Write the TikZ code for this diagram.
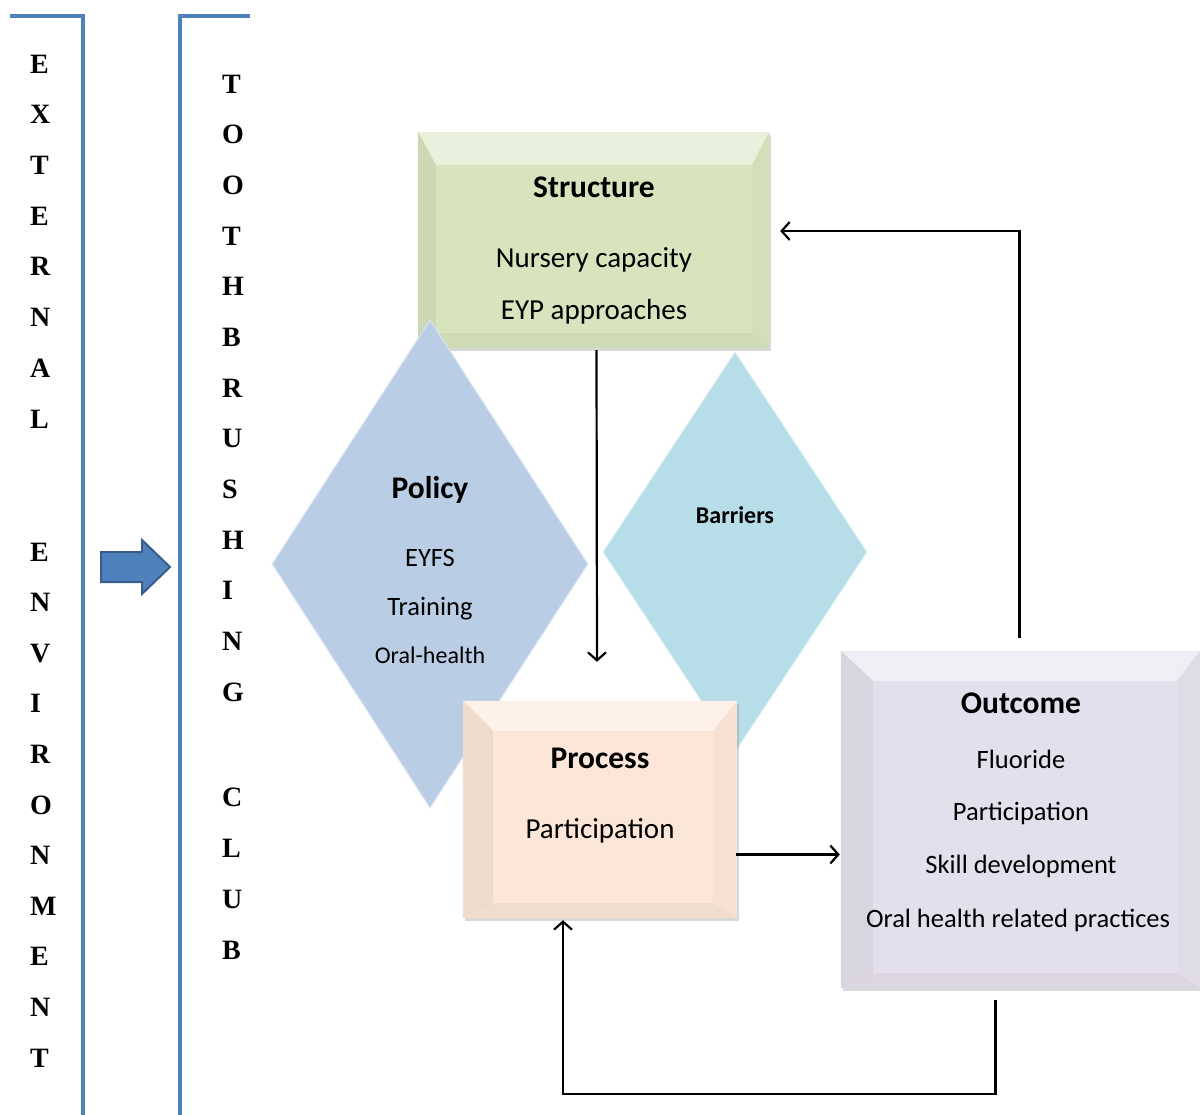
\documentclass[tikz,border=0pt]{standalone}
\usepackage{fontspec}
\setmainfont{Carlito}
\newfontfamily\lettersfont{Liberation Serif}
\usetikzlibrary{shapes.geometric,arrows.meta,shadows}

\definecolor{railblue}{HTML}{4F81BD}
\definecolor{pushedge}{HTML}{385D8A}
\definecolor{strgreen}{HTML}{D7E4BD}
\definecolor{polblue}{HTML}{B9CDE5}
\definecolor{barblue}{HTML}{B7DEE8}
\definecolor{procpeach}{HTML}{FBE6D7}
\definecolor{outlilac}{HTML}{E4DFEC}

% bevel: node, left, top, right, bottom, colour
\newcommand\bevel[6]{%
\coordinate (#1-a) at ([shift={(#2,#3)}]#1.north west);
\coordinate (#1-b) at ([shift={(-#4,#3)}]#1.north east);
\coordinate (#1-c) at ([shift={(-#4,-#5)}]#1.south east);
\coordinate (#1-d) at ([shift={(#2,-#5)}]#1.south west);
\fill[#6!55!white] (#1.north west) -- (#1.north east) -- (#1-b) -- (#1-a) -- cycle;
\fill[#6!95!black] (#1.north west) -- (#1-a) -- (#1-d) -- (#1.south west) -- cycle;
\fill[#6!98!black] (#1.north east) -- (#1.south east) -- (#1-c) -- (#1-b) -- cycle;
\fill[#6!96!black] (#1.south west) -- (#1-d) -- (#1-c) -- (#1.south east) -- cycle;
}

\begin{document}
\begin{tikzpicture}[x=1pt,y=-1pt,
  box/.style={rectangle,inner sep=0pt,drop shadow={opacity=.3,shadow xshift=2pt,shadow yshift=-3pt}},
  kite/.style={diamond,inner sep=0pt,draw=#1!55!white,line width=1pt,fill=#1},
  head/.style={font=\fontsize{31.5}{36}\selectfont\bfseries},
  item/.style={font=\fontsize{29}{33}\selectfont},
  small/.style={font=\fontsize{26.5}{30}\selectfont},
  tiny/.style={font=\fontsize{24}{28}\selectfont},
  letter/.style={font=\lettersfont\bfseries\fontsize{28}{32}\selectfont,anchor=west,inner sep=0pt},
  rail/.style={railblue,line width=3.5pt},
  conn/.style={line width=2.2pt,-{Straight Barb[length=8pt,width=18pt]}}]
\useasboundingbox (0,0) rectangle (1200,1115);

\draw[rail] (10,16) -- (83,16) -- (83,1115);
\draw[rail] (250,16) -- (180,16) -- (180,1115);
\foreach \c [count=\i] in {E,X,T,E,R,N,A,L}
  \node[letter] (ext\i) at (30,13.3+50.7*\i) {\c};
\foreach \c [count=\i] in {E,N,V,I,R,O,N,M,E,N,T}
  \node[letter] (env\i) at (30,501.4+50.6*\i) {\c};
\foreach \c [count=\i] in {T,O,O,T,H,B,R,U,S,H,I,N,G}
  \node[letter] (tb\i) at (222,33.3+50.67*\i) {\c};
\foreach \c [count=\i] in {C,L,U,B}
  \node[letter] (club\i) at (222,746+51*\i) {\c};
\draw[pushedge,line width=2pt,fill=railblue] (101,552) -- (142,552) -- (142,540) -- (170,567)
  -- (142,594) -- (142,582) -- (101,582) -- cycle;

\node[box,fill=strgreen,minimum width=351pt,minimum height=216pt] (str) at (593.5,240) {};
\bevel{str}{18}{33}{17}{15}{strgreen}
\node[kite=polblue,minimum width=316pt,minimum height=488pt] (pol) at (430,564) {};
\node[kite=barblue,minimum width=264pt,minimum height=400pt] (bar) at (735,552) {};
\node[box,fill=procpeach,minimum width=274pt,minimum height=217pt] (proc) at (600,809.5) {};
\bevel{proc}{30}{30}{24}{15}{procpeach}
\node[box,fill=outlilac,minimum width=359pt,minimum height=337pt] (out) at (1020.5,819.5) {};
\bevel{out}{32}{30}{23}{15}{outlilac}

\node[head] (strT) at (594,187) {Structure};
\node[item] (strA) at (594,260) {Nursery capacity};
\node[item] (strB) at (594,312) {EYP approaches};
\node[head] (polT) at (430,490) {Policy};
\node[small] (polA) at (430,558) {EYFS};
\node[small] (polB) at (430,609) {Training};
\node[tiny] (polC) at (430,655) {Oral-health};
\node[font=\fontsize{24}{28}\selectfont\bfseries] (barT) at (735,515) {Barriers};
\node[head] (procT) at (600,758) {Process};
\node[item] (procA) at (600,831) {Participation};
\node[head] (outT) at (1021,703) {Outcome};
\node[small] (outA) at (1021,759) {Fluoride};
\node[small] (outB) at (1021,813) {Participation};
\node[small] (outC) at (1021,866) {Skill development};
\node[small] (outD) at (1018,920) {Oral health related practices};

\draw[conn] ([shift={(3,2)}]str.south) -- ([shift={(-3,-39)}]proc.north);
\draw[conn] ([shift={(-1,45)}]proc.east) -- ([shift={(-1,45)}]proc.east -| out.west);
\draw[conn] ([shift={(-1,-13)}]out.north) |- ([shift={(11,-9)}]str.east);
\draw[conn] ([shift={(-25,12)}]out.south) -- ++(0,94) -| ([shift={(-37,2)}]proc.south);
\end{tikzpicture}
\end{document}
